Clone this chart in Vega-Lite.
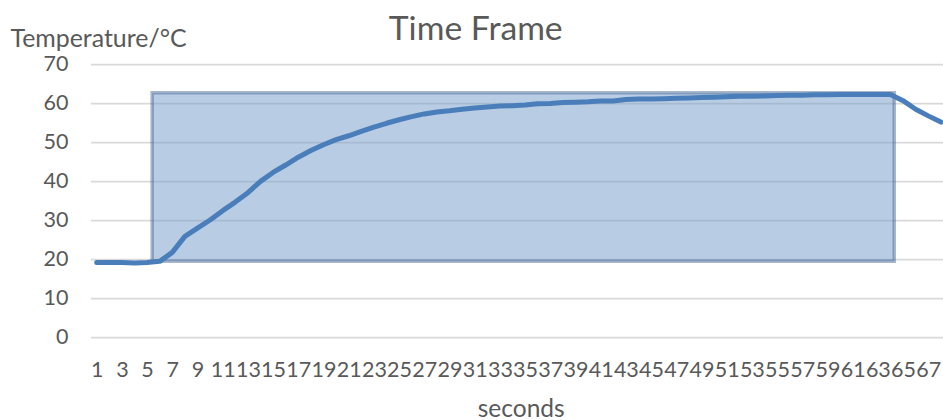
{
  "$schema": "https://vega.github.io/schema/vega-lite/v6.json",
  "autosize": {"type": "none"},
  "padding": {"left": 90.4, "top": 64, "right": 0, "bottom": 83},
  "width": 852.6,
  "height": 273,
  "background": "white",
  "title": {
    "text": "Time Frame",
    "font": "Lato",
    "fontSize": 33.7,
    "fontWeight": "normal",
    "color": "#595959",
    "anchor": "middle",
    "frame": "group",
    "baseline": "alphabetic",
    "dx": -41,
    "offset": -48
  },
  "datasets": {
    "temperature": [
      {"second": 1, "temp": 19.1}, {"second": 2, "temp": 19.1}, {"second": 3, "temp": 19.1},
      {"second": 4, "temp": 19.0}, {"second": 5, "temp": 19.1}, {"second": 6, "temp": 19.4},
      {"second": 7, "temp": 21.7}, {"second": 8, "temp": 25.8}, {"second": 9, "temp": 27.9},
      {"second": 10, "temp": 30.0}, {"second": 11, "temp": 32.4}, {"second": 12, "temp": 34.6},
      {"second": 13, "temp": 37.0}, {"second": 14, "temp": 39.9}, {"second": 15, "temp": 42.2},
      {"second": 16, "temp": 44.1}, {"second": 17, "temp": 46.1}, {"second": 18, "temp": 47.8},
      {"second": 19, "temp": 49.3}, {"second": 20, "temp": 50.6}, {"second": 21, "temp": 51.6},
      {"second": 22, "temp": 52.7}, {"second": 23, "temp": 53.8}, {"second": 24, "temp": 54.8},
      {"second": 25, "temp": 55.7}, {"second": 26, "temp": 56.5}, {"second": 27, "temp": 57.2},
      {"second": 28, "temp": 57.7}, {"second": 29, "temp": 58.0}, {"second": 30, "temp": 58.4},
      {"second": 31, "temp": 58.7}, {"second": 32, "temp": 59.0}, {"second": 33, "temp": 59.2},
      {"second": 34, "temp": 59.3}, {"second": 35, "temp": 59.5}, {"second": 36, "temp": 59.8},
      {"second": 37, "temp": 59.9}, {"second": 38, "temp": 60.1}, {"second": 39, "temp": 60.2},
      {"second": 40, "temp": 60.3}, {"second": 41, "temp": 60.5}, {"second": 42, "temp": 60.5},
      {"second": 43, "temp": 60.9}, {"second": 44, "temp": 61.0}, {"second": 45, "temp": 61.0},
      {"second": 46, "temp": 61.1}, {"second": 47, "temp": 61.2}, {"second": 48, "temp": 61.3},
      {"second": 49, "temp": 61.4}, {"second": 50, "temp": 61.5}, {"second": 51, "temp": 61.6},
      {"second": 52, "temp": 61.7}, {"second": 53, "temp": 61.7}, {"second": 54, "temp": 61.8},
      {"second": 55, "temp": 61.9}, {"second": 56, "temp": 62.0}, {"second": 57, "temp": 62.0},
      {"second": 58, "temp": 62.1}, {"second": 59, "temp": 62.1}, {"second": 60, "temp": 62.2},
      {"second": 61, "temp": 62.2}, {"second": 62, "temp": 62.2}, {"second": 63, "temp": 62.2},
      {"second": 64, "temp": 62.2}, {"second": 65, "temp": 60.6}, {"second": 66, "temp": 58.4},
      {"second": 67, "temp": 56.7}, {"second": 68, "temp": 55.1}
    ],
    "frame": [
      {"start": 5.4, "end": 64.3, "low": 19.4, "high": 62.6}
    ]
  },
  "layer": [
    {
      "data": {"name": "frame"},
      "mark": {
        "type": "rect",
        "fill": "#7199c9",
        "fillOpacity": 0.5,
        "stroke": "#3f5f8f",
        "strokeOpacity": 0.45,
        "strokeWidth": 3.5
      },
      "encoding": {
        "x": {
          "field": "start",
          "type": "quantitative",
          "scale": {"domain": [0.5, 68.17], "nice": false, "zero": false},
          "axis": {
            "values": [1, 3, 5, 7, 9, 11, 13, 15, 17, 19, 21, 23, 25, 27, 29, 31, 33, 35, 37, 39, 41, 43, 45, 47, 49, 51, 53, 55, 57, 59, 61, 63, 65, 67],
            "format": "d",
            "grid": false,
            "domain": false,
            "ticks": false,
            "labelPadding": 22.4,
            "labelFlush": false,
            "labelOverlap": false,
            "title": "seconds",
            "titleFontSize": 24.5,
            "titleBaseline": "alphabetic",
            "titleX": 430.3,
            "titleY": 79
          }
        },
        "x2": {"field": "end"},
        "y": {
          "field": "low",
          "type": "quantitative",
          "scale": {"domain": [0, 70], "nice": false, "zero": true},
          "axis": {
            "values": [0, 10, 20, 30, 40, 50, 60, 70],
            "grid": true,
            "domain": false,
            "ticks": false,
            "labelOverlap": false,
            "labelPadding": 22.4,
            "title": "Temperature/°C",
            "titleFontSize": 24.9,
            "titleAngle": 0,
            "titleAlign": "left",
            "titleBaseline": "alphabetic",
            "titleX": -80.4,
            "titleY": -18
          }
        },
        "y2": {"field": "high"}
      }
    },
    {
      "data": {"name": "temperature"},
      "mark": {
        "type": "line",
        "color": "#4a7ebb",
        "strokeWidth": 5,
        "strokeCap": "round",
        "strokeJoin": "round"
      },
      "encoding": {
        "x": {
          "field": "second",
          "type": "quantitative",
          "scale": {"domain": [0.5, 68.17], "nice": false, "zero": false},
          "axis": {
            "values": [1, 3, 5, 7, 9, 11, 13, 15, 17, 19, 21, 23, 25, 27, 29, 31, 33, 35, 37, 39, 41, 43, 45, 47, 49, 51, 53, 55, 57, 59, 61, 63, 65, 67],
            "format": "d",
            "grid": false,
            "domain": false,
            "ticks": false,
            "labelPadding": 22.4,
            "labelFlush": false,
            "labelOverlap": false,
            "title": "seconds",
            "titleFontSize": 24.5,
            "titleBaseline": "alphabetic",
            "titleX": 430.3,
            "titleY": 79
          }
        },
        "y": {
          "field": "temp",
          "type": "quantitative",
          "scale": {"domain": [0, 70], "nice": false, "zero": true},
          "axis": {
            "values": [0, 10, 20, 30, 40, 50, 60, 70],
            "grid": true,
            "domain": false,
            "ticks": false,
            "labelOverlap": false,
            "labelPadding": 22.4,
            "title": "Temperature/°C",
            "titleFontSize": 24.9,
            "titleAngle": 0,
            "titleAlign": "left",
            "titleBaseline": "alphabetic",
            "titleX": -80.4,
            "titleY": -18
          }
        }
      }
    }
  ],
  "config": {
    "font": "Lato",
    "view": {"stroke": null},
    "axis": {
      "labelFont": "Lato",
      "labelFontSize": 21.5,
      "labelColor": "#595959",
      "titleFont": "Lato",
      "titleFontWeight": "normal",
      "titleColor": "#595959",
      "gridColor": "#d9d9d9",
      "gridWidth": 1.75,
      "gridOpacity": 1
    }
  }
}
